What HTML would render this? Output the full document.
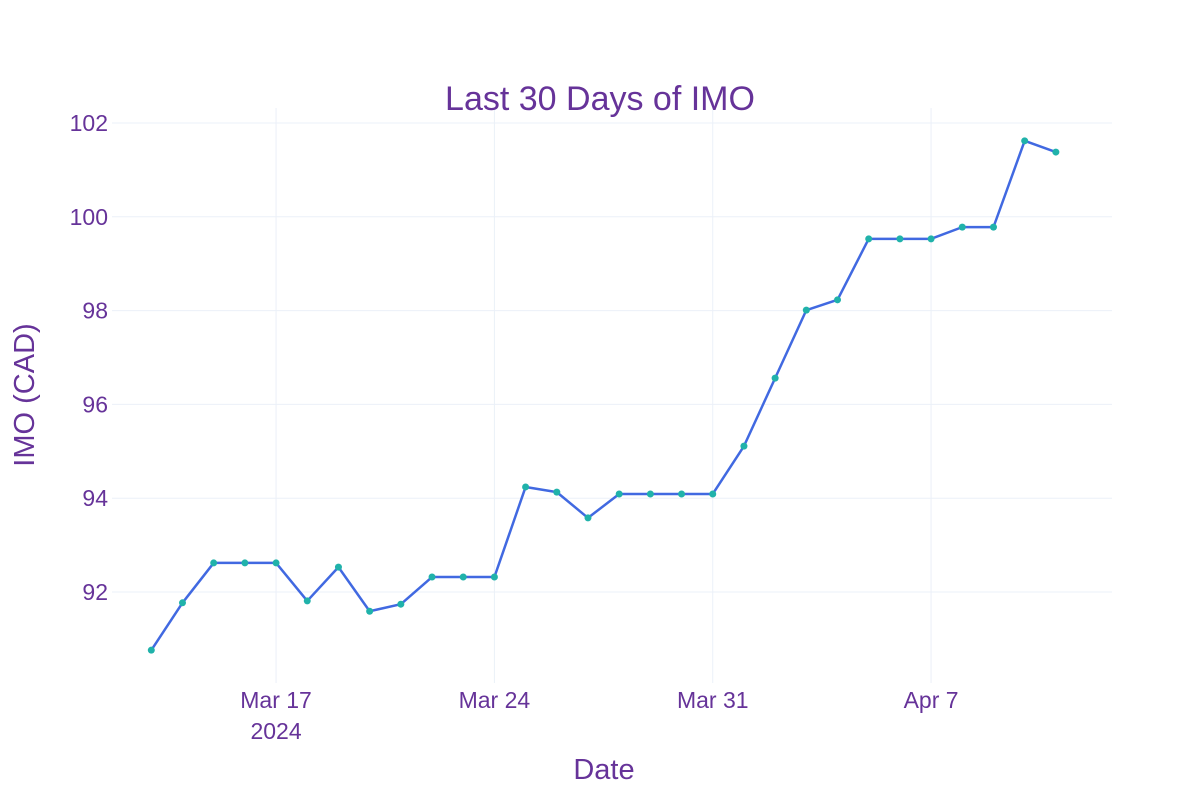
<!DOCTYPE html>
<html><head><meta charset="utf-8"><style>
body{margin:0;background:#fff;}
svg{display:block;font-family:"Liberation Sans",Arial,sans-serif;}
</style></head><body>
<svg id="chart" width="1200" height="800"></svg>
<script>
const startDate = "2024-03-13";
const prices = [90.76,91.77,92.62,92.62,92.62,91.81,92.53,91.59,91.74,92.32,92.32,92.32,94.24,94.13,93.58,94.09,94.09,94.09,94.09,95.11,96.56,98.01,98.23,99.53,99.53,99.53,99.78,99.78,101.62,101.38];
const yTicks = [92,94,96,98,100,102];
const xTickDays = [4,11,18,25];
const xTickLabels = ["Mar 17","Mar 24","Mar 31","Apr 7"];

const NS="http://www.w3.org/2000/svg";
const svg=document.getElementById('chart');
const L=112,R=1112,T=108,B=683;
const xMin=-1.26,xMax=30.8,yMin=90.06,yMax=102.32;
const xs=d=>L+(d-xMin)/(xMax-xMin)*(R-L);
const ys=v=>B-(v-yMin)/(yMax-yMin)*(B-T);
function mk(tag,attrs,parent){const e=document.createElementNS(NS,tag);for(const k in attrs)e.setAttribute(k,attrs[k]);(parent||svg).appendChild(e);return e;}
const grid=mk('g',{});


yTicks.forEach(v=>{
  const l=mk('line',{x1:L,x2:R,y1:ys(v),y2:ys(v),stroke:'#ebf0f8','stroke-width':1},grid);
  
  
  const t=mk('text',{x:L-4,y:ys(v)+8,'text-anchor':'end','font-size':23,fill:'#663399'});
  t.textContent=v;
  
  
});
xTickDays.forEach((d,i)=>{
  const l=mk('line',{x1:xs(d),x2:xs(d),y1:T,y2:B,stroke:'#ebf0f8','stroke-width':1},grid);
  
  
  const t=mk('text',{x:xs(d),y:708,'text-anchor':'middle','font-size':23,fill:'#663399'});
  t.textContent=xTickLabels[i];
  
  
});
const yr=mk('text',{x:xs(xTickDays[0]),y:739,'text-anchor':'middle','font-size':23,fill:'#663399'});
yr.textContent="2024";


const pts=prices.map((v,i)=>xs(i)+','+ys(v)).join(' ');
const line=mk('polyline',{points:pts,fill:'none',stroke:'#4169E1','stroke-width':2.5,'stroke-linejoin':'round'});


prices.forEach((v,i)=>{
  const c=mk('circle',{cx:xs(i),cy:ys(v),r:3.5,fill:'#20B2AA'});
  
  
});
const title=mk('text',{x:600,y:110,'text-anchor':'middle','font-size':34,fill:'#663399'});
title.textContent="Last 30 Days of IMO";


const xt=mk('text',{x:604,y:779,'text-anchor':'middle','font-size':29,fill:'#663399'});
xt.textContent="Date";


const yt=mk('text',{x:0,y:0,'text-anchor':'middle','font-size':29,fill:'#663399',transform:'translate(34,395) rotate(-90)'});
yt.textContent="IMO (CAD)";


</script>
</body></html>
